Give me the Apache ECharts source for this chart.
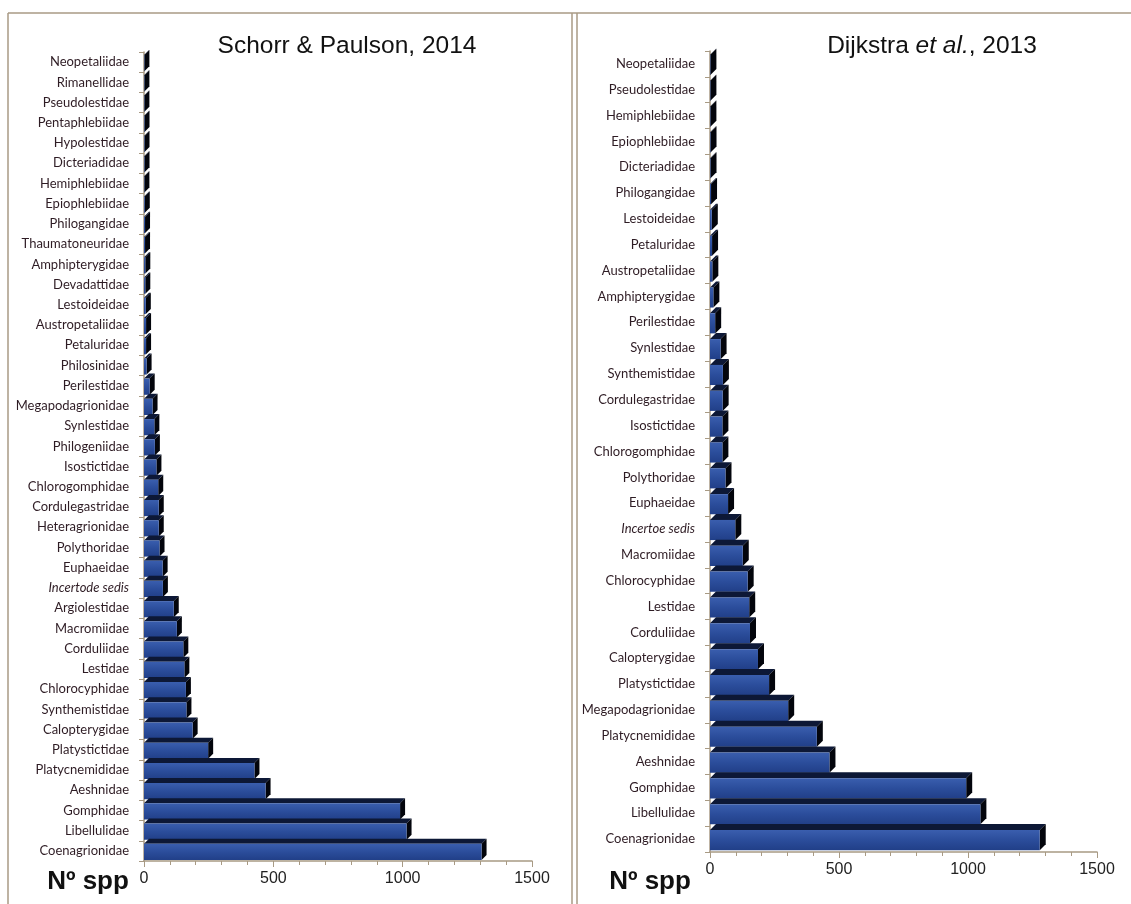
<!DOCTYPE html>
<html><head><meta charset="utf-8">
<script src="https://cdn.jsdelivr.net/npm/echarts@6/dist/echarts.min.js"></script>
<style>html,body{margin:0;padding:0;background:#fff}#c{width:1131px;height:904px}</style>
</head><body><div id="c"></div>
<script>
const leftCategories = ['Neopetaliidae','Rimanellidae','Pseudolestidae','Pentaphlebiidae','Hypolestidae','Dicteriadidae','Hemiphlebiidae','Epiophlebiidae','Philogangidae','Thaumatoneuridae','Amphipterygidae','Devadattidae','Lestoideidae','Austropetaliidae','Petaluridae','Philosinidae','Perilestidae','Megapodagrionidae','Synlestidae','Philogeniidae','Isostictidae','Chlorogomphidae','Cordulegastridae','Heteragrionidae','Polythoridae','Euphaeidae','Incertode sedis','Argiolestidae','Macromiidae','Corduliidae','Lestidae','Chlorocyphidae','Synthemistidae','Calopterygidae','Platystictidae','Platycnemididae','Aeshnidae','Gomphidae','Libellulidae','Coenagrionidae'];
const leftValues = [1,1,1,2,2,2,1,3,4,4,5,5,7,8,8,10,22,33,40,42,48,55,57,57,60,72,73,115,127,152,156,162,164,188,248,427,470,990,1015,1305];
const rightCategories = ['Neopetaliidae','Pseudolestidae','Hemiphlebiidae','Epiophlebiidae','Dicteriadidae','Philogangidae','Lestoideidae','Petaluridae','Austropetaliidae','Amphipterygidae','Perilestidae','Synlestidae','Synthemistidae','Cordulegastridae','Isostictidae','Chlorogomphidae','Polythoridae','Euphaeidae','Incertoe sedis','Macromiidae','Chlorocyphidae','Lestidae','Corduliidae','Calopterygidae','Platystictidae','Megapodagrionidae','Platycnemididae','Aeshnidae','Gomphidae','Libellulidae','Coenagrionidae'];
const rightValues = [1,1,1,2,2,4,7,8,9,13,20,41,50,49,48,48,60,70,98,127,146,152,155,186,229,303,414,463,993,1048,1278];
const xTickMin = 0, xTickMax = 1500, xTickStep = 500;

const tan = '#a89a84';
const labelColor = '#2e1c24';

function make3D(frac, depth){
  return function(params, api){
    const v = api.value(0), ci = api.value(1);
    const p0 = api.coord([0, ci]), p1 = api.coord([v, ci]);
    const band = api.size([0,1])[1];
    const h = band*frac, d = depth;
    const x0 = p0[0], x1 = Math.max(p1[0], x0+0.4);
    const yT = p0[1] - h/2 + 1, yB = yT + h;
    return {type:'group', children:[
      {type:'polygon', shape:{points:[[x0,yT],[x1,yT],[x1+d,yT-d],[x0+d,yT-d]]}, style:{fill:'#0d1836'}},
      {type:'polygon', shape:{points:[[x1,yT],[x1+d,yT-d],[x1+d,yB-d],[x1,yB]]}, style:{fill:'#03050c'}},
      {type:'rect', shape:{x:x0,y:yT,width:x1-x0,height:h}, style:{fill:{type:'linear',x:0,y:0,x2:0,y2:1,colorStops:[{offset:0,color:'#3a5eae'},{offset:0.5,color:'#2b4d9b'},{offset:1,color:'#213f88'}]}}}
    ]};
  };
}

function yAxisCfg(cats, grid){
  return {type:'category', gridIndex:grid, inverse:true, data:cats,
    axisLine:{show:true, lineStyle:{color:tan, width:1.5}},
    axisTick:{show:true, length:5, lineStyle:{color:tan}},
    axisLabel:{margin:15, fontFamily:'Lato', fontSize:13, color:labelColor,
      formatter: v => v.indexOf('sedis')>=0 ? '{i|'+v+'}' : v,
      rich:{i:{fontStyle:'italic', fontFamily:'Lato', fontSize:13, color:labelColor}}},
    splitLine:{show:false}};
}
function xAxisCfg(grid){
  return {type:'value', gridIndex:grid, min:xTickMin, max:xTickMax, interval:xTickStep,
    axisLine:{show:true, lineStyle:{color:tan, width:1.5}},
    axisTick:{show:true, length:6, lineStyle:{color:tan}},
    minorTick:{show:true, splitNumber:5, length:4, lineStyle:{color:tan}},
    axisLabel:{margin:10, fontFamily:'Liberation Sans', fontSize:16, color:'#222', formatter: v => String(v)},
    splitLine:{show:false}};
}

const chart = echarts.init(document.getElementById('c'), null, {renderer:'canvas'});
chart.setOption({
  animation:false,
  backgroundColor:'#fff',
  grid:[{left:144, width:388, top:52, height:809},{left:710, width:387, top:51, height:801}],
  xAxis:[xAxisCfg(0), xAxisCfg(1)],
  yAxis:[yAxisCfg(leftCategories,0), yAxisCfg(rightCategories,1)],
  series:[
    {type:'custom', xAxisIndex:0, yAxisIndex:0, renderItem:make3D(0.8,5), encode:{x:0,y:1},
      data:leftValues.map((v,i)=>[v, leftCategories[i]])},
    {type:'custom', xAxisIndex:1, yAxisIndex:1, renderItem:make3D(0.78,6), encode:{x:0,y:1},
      data:rightValues.map((v,i)=>[v, rightCategories[i]])}
  ],
  graphic:[
    {type:'line', shape:{x1:8,y1:13,x2:1131,y2:13}, style:{stroke:tan, lineWidth:1.5}},
    {type:'line', shape:{x1:8,y1:13,x2:8,y2:904}, style:{stroke:tan, lineWidth:1.5}},
    {type:'line', shape:{x1:572,y1:13,x2:572,y2:904}, style:{stroke:tan, lineWidth:1.5}},
    {type:'line', shape:{x1:577,y1:13,x2:577,y2:904}, style:{stroke:tan, lineWidth:1.5}},
    {type:'text', x:347, y:46, style:{text:'Schorr & Paulson, 2014', fontFamily:'Liberation Sans', fontSize:24.5, fill:'#111', align:'center', verticalAlign:'middle'}},
    {type:'text', x:932, y:46, style:{text:'Dijkstra {i|et al.}, 2013', fontFamily:'Liberation Sans', fontSize:24.5, fill:'#111', align:'center', verticalAlign:'middle',
      rich:{i:{fontStyle:'italic', fontFamily:'Liberation Sans', fontSize:24.5, fill:'#111'}}}},
    {type:'text', x:88, y:882, style:{text:'Nº spp', fontFamily:'Liberation Sans', fontWeight:'bold', fontSize:26, fill:'#111', align:'center', verticalAlign:'middle'}},
    {type:'text', x:650, y:882, style:{text:'Nº spp', fontFamily:'Liberation Sans', fontWeight:'bold', fontSize:26, fill:'#111', align:'center', verticalAlign:'middle'}}
  ]
});
</script></body></html>
